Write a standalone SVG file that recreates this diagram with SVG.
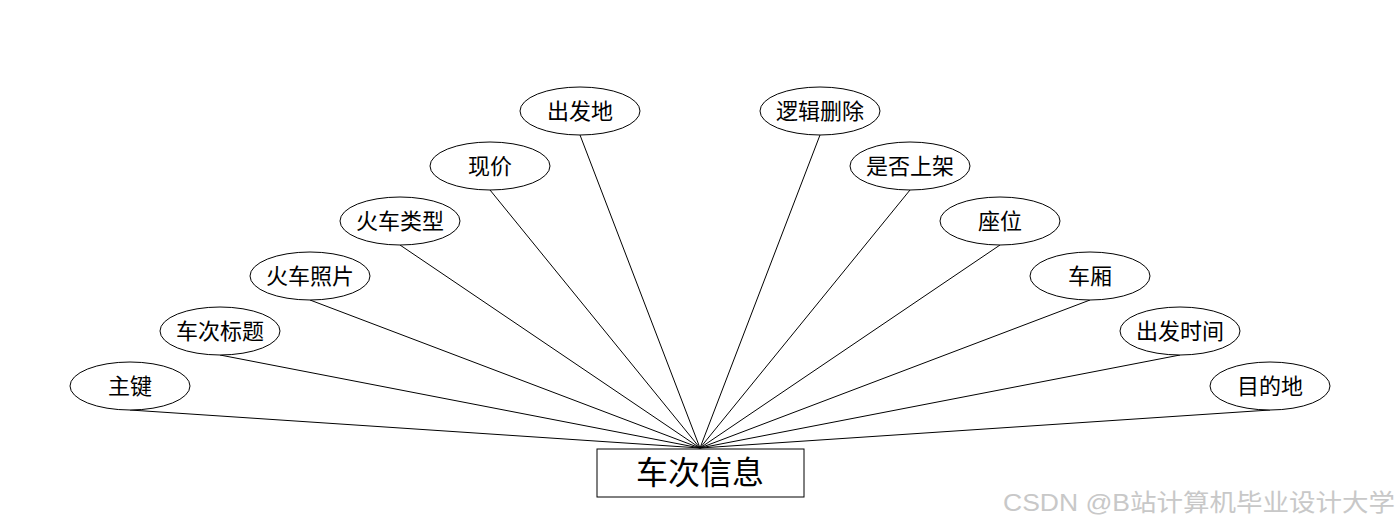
<svg xmlns="http://www.w3.org/2000/svg" width="1400" height="528" viewBox="0 0 1400 528">
<style>
.e{fill:#fff;stroke:#000;stroke-width:1}
.t{font-family:"Liberation Sans","Noto Sans CJK SC",sans-serif;font-size:22px;fill:#000;text-anchor:middle;dominant-baseline:central}
.c{stroke:#000;stroke-width:1;fill:none}
</style>
<rect width="1400" height="528" fill="#fff"/>
<g id="connectors">
<line class="c" x1="130" y1="410" x2="700" y2="448"/>
<line class="c" x1="220" y1="355" x2="700" y2="448"/>
<line class="c" x1="310" y1="300" x2="700" y2="448"/>
<line class="c" x1="400" y1="245" x2="700" y2="448"/>
<line class="c" x1="490" y1="190" x2="700" y2="448"/>
<line class="c" x1="580" y1="135" x2="700" y2="448"/>
<line class="c" x1="820" y1="135" x2="700" y2="448"/>
<line class="c" x1="910" y1="190" x2="700" y2="448"/>
<line class="c" x1="1000" y1="245" x2="700" y2="448"/>
<line class="c" x1="1090" y1="300" x2="700" y2="448"/>
<line class="c" x1="1180" y1="355" x2="700" y2="448"/>
<line class="c" x1="1270" y1="410" x2="700" y2="448"/>
</g>
<g id="n0"><ellipse class="e" cx="130" cy="386" rx="60" ry="24"/><text class="t" x="130" y="386">主键</text></g>
<g id="n1"><ellipse class="e" cx="220" cy="331" rx="60" ry="24"/><text class="t" x="220" y="331">车次标题</text></g>
<g id="n2"><ellipse class="e" cx="310" cy="276" rx="60" ry="24"/><text class="t" x="310" y="276">火车照片</text></g>
<g id="n3"><ellipse class="e" cx="400" cy="221" rx="60" ry="24"/><text class="t" x="400" y="221">火车类型</text></g>
<g id="n4"><ellipse class="e" cx="490" cy="166" rx="60" ry="24"/><text class="t" x="490" y="166">现价</text></g>
<g id="n5"><ellipse class="e" cx="580" cy="111" rx="60" ry="24"/><text class="t" x="580" y="111">出发地</text></g>
<g id="n6"><ellipse class="e" cx="820" cy="111" rx="60" ry="24"/><text class="t" x="820" y="111">逻辑删除</text></g>
<g id="n7"><ellipse class="e" cx="910" cy="166" rx="60" ry="24"/><text class="t" x="910" y="166">是否上架</text></g>
<g id="n8"><ellipse class="e" cx="1000" cy="221" rx="60" ry="24"/><text class="t" x="1000" y="221">座位</text></g>
<g id="n9"><ellipse class="e" cx="1090" cy="276" rx="60" ry="24"/><text class="t" x="1090" y="276">车厢</text></g>
<g id="n10"><ellipse class="e" cx="1180" cy="331" rx="60" ry="24"/><text class="t" x="1180" y="331">出发时间</text></g>
<g id="n11"><ellipse class="e" cx="1270" cy="386" rx="60" ry="24"/><text class="t" x="1270" y="386">目的地</text></g>
<g id="main"><rect x="597" y="449" width="207" height="48" fill="#fff" stroke="#000" stroke-width="1"/><text class="t" x="700" y="473" style="font-size:32px">车次信息</text></g>
<text x="1003" y="511" textLength="392" lengthAdjust="spacingAndGlyphs" style="font-family:'Liberation Sans','Noto Sans CJK SC',sans-serif;font-size:24px;fill:#c8c8c8">CSDN @B站计算机毕业设计大学</text>
</svg>
